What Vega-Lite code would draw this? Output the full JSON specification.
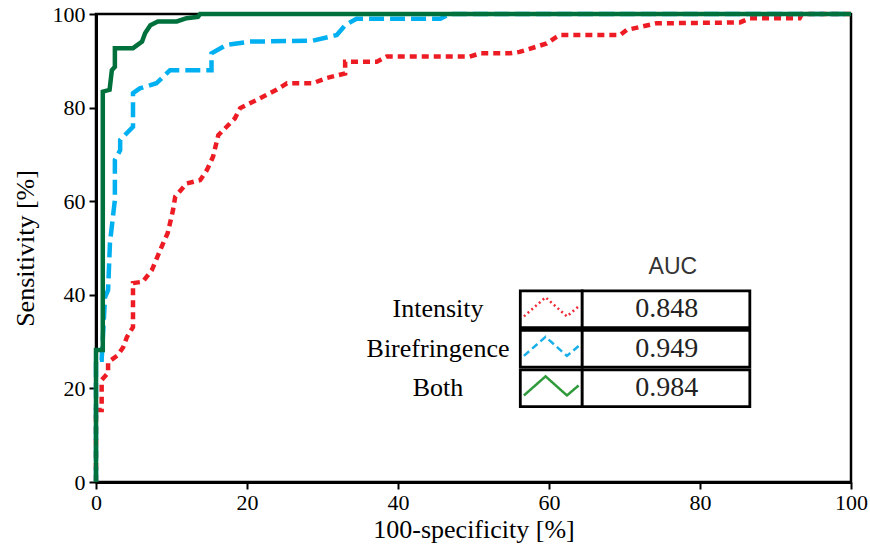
{
  "$schema": "https://vega.github.io/schema/vega-lite/v6.json",
  "width": 755,
  "height": 468,
  "autosize": "none",
  "padding": {"left": 96, "top": 14, "right": 19, "bottom": 68},
  "background": "white",
  "config": {
    "view": {"stroke": "black", "strokeWidth": 2.5},
    "font": "Liberation Serif",
    "axis": {
      "domainColor": "black", "domainWidth": 3,
      "tickColor": "black", "tickWidth": 2, "tickSize": 7,
      "labelFont": "Liberation Serif", "labelFontSize": 22, "labelColor": "black",
      "labelFlush": false, "labelOverlap": false,
      "titleFont": "Liberation Serif", "titleFontSize": 26, "titleFontWeight": "normal", "titleColor": "black",
      "grid": false
    }
  },
  "datasets": {
    "roc": [
      {"series": "Intensity", "i": 0, "x": 0, "y": 0},
      {"series": "Intensity", "i": 1, "x": 0, "y": 15.4},
      {"series": "Intensity", "i": 2, "x": 0.75, "y": 15.4},
      {"series": "Intensity", "i": 3, "x": 0.75, "y": 21.8},
      {"series": "Intensity", "i": 4, "x": 1.6, "y": 23.3},
      {"series": "Intensity", "i": 5, "x": 1.6, "y": 25.6},
      {"series": "Intensity", "i": 6, "x": 2.9, "y": 27.1},
      {"series": "Intensity", "i": 7, "x": 3.6, "y": 28.8},
      {"series": "Intensity", "i": 8, "x": 4.1, "y": 31.0},
      {"series": "Intensity", "i": 9, "x": 4.9, "y": 33.1},
      {"series": "Intensity", "i": 10, "x": 4.9, "y": 42.5},
      {"series": "Intensity", "i": 11, "x": 6.2, "y": 42.8},
      {"series": "Intensity", "i": 12, "x": 7.4, "y": 45.3},
      {"series": "Intensity", "i": 13, "x": 8.7, "y": 50.3},
      {"series": "Intensity", "i": 14, "x": 9.5, "y": 53.2},
      {"series": "Intensity", "i": 15, "x": 10.2, "y": 58.1},
      {"series": "Intensity", "i": 16, "x": 10.5, "y": 61.0},
      {"series": "Intensity", "i": 17, "x": 12.0, "y": 63.8},
      {"series": "Intensity", "i": 18, "x": 13.8, "y": 64.5},
      {"series": "Intensity", "i": 19, "x": 14.7, "y": 66.7},
      {"series": "Intensity", "i": 20, "x": 15.5, "y": 69.5},
      {"series": "Intensity", "i": 21, "x": 16.2, "y": 74.1},
      {"series": "Intensity", "i": 22, "x": 18.4, "y": 77.7},
      {"series": "Intensity", "i": 23, "x": 19.1, "y": 79.9},
      {"series": "Intensity", "i": 24, "x": 22.1, "y": 82.3},
      {"series": "Intensity", "i": 25, "x": 23.9, "y": 83.8},
      {"series": "Intensity", "i": 26, "x": 25.3, "y": 85.2},
      {"series": "Intensity", "i": 27, "x": 28.7, "y": 85.2},
      {"series": "Intensity", "i": 28, "x": 30.5, "y": 86.3},
      {"series": "Intensity", "i": 29, "x": 33.0, "y": 87.3},
      {"series": "Intensity", "i": 30, "x": 33.0, "y": 89.8},
      {"series": "Intensity", "i": 31, "x": 37.2, "y": 89.8},
      {"series": "Intensity", "i": 32, "x": 38.5, "y": 90.9},
      {"series": "Intensity", "i": 33, "x": 49.5, "y": 90.9},
      {"series": "Intensity", "i": 34, "x": 50.9, "y": 91.6},
      {"series": "Intensity", "i": 35, "x": 54.8, "y": 91.6},
      {"series": "Intensity", "i": 36, "x": 56.1, "y": 91.9},
      {"series": "Intensity", "i": 37, "x": 59.7, "y": 93.7},
      {"series": "Intensity", "i": 38, "x": 61.0, "y": 95.1},
      {"series": "Intensity", "i": 39, "x": 61.4, "y": 95.5},
      {"series": "Intensity", "i": 40, "x": 69.4, "y": 95.5},
      {"series": "Intensity", "i": 41, "x": 70.3, "y": 96.6},
      {"series": "Intensity", "i": 42, "x": 74.2, "y": 98.0},
      {"series": "Intensity", "i": 43, "x": 85.3, "y": 98.2},
      {"series": "Intensity", "i": 44, "x": 86.6, "y": 99.1},
      {"series": "Intensity", "i": 45, "x": 93.2, "y": 99.1},
      {"series": "Intensity", "i": 46, "x": 93.5, "y": 100},
      {"series": "Intensity", "i": 47, "x": 100, "y": 100},
      {"series": "Birefringence", "i": 0, "x": 0, "y": 0},
      {"series": "Birefringence", "i": 1, "x": 0, "y": 26.1},
      {"series": "Birefringence", "i": 2, "x": 0.75, "y": 26.1},
      {"series": "Birefringence", "i": 3, "x": 1.2, "y": 39.5},
      {"series": "Birefringence", "i": 4, "x": 1.6, "y": 41.0},
      {"series": "Birefringence", "i": 5, "x": 1.85, "y": 51.1},
      {"series": "Birefringence", "i": 6, "x": 2.5, "y": 60.3},
      {"series": "Birefringence", "i": 7, "x": 2.5, "y": 68.8},
      {"series": "Birefringence", "i": 8, "x": 3.2, "y": 70.9},
      {"series": "Birefringence", "i": 9, "x": 3.2, "y": 73.1},
      {"series": "Birefringence", "i": 10, "x": 4.9, "y": 75.9},
      {"series": "Birefringence", "i": 11, "x": 4.9, "y": 83.1},
      {"series": "Birefringence", "i": 12, "x": 5.8, "y": 84.1},
      {"series": "Birefringence", "i": 13, "x": 8.0, "y": 85.2},
      {"series": "Birefringence", "i": 14, "x": 9.8, "y": 88.0},
      {"series": "Birefringence", "i": 15, "x": 15.3, "y": 88.0},
      {"series": "Birefringence", "i": 16, "x": 15.3, "y": 91.6},
      {"series": "Birefringence", "i": 17, "x": 17.3, "y": 93.4},
      {"series": "Birefringence", "i": 18, "x": 20.4, "y": 94.1},
      {"series": "Birefringence", "i": 19, "x": 28.7, "y": 94.3},
      {"series": "Birefringence", "i": 20, "x": 31.9, "y": 95.5},
      {"series": "Birefringence", "i": 21, "x": 33.0, "y": 97.6},
      {"series": "Birefringence", "i": 22, "x": 34.5, "y": 99.0},
      {"series": "Birefringence", "i": 23, "x": 45.6, "y": 99.0},
      {"series": "Birefringence", "i": 24, "x": 46.9, "y": 100},
      {"series": "Birefringence", "i": 25, "x": 100, "y": 100},
      {"series": "Both", "i": 0, "x": 0, "y": 0},
      {"series": "Both", "i": 1, "x": 0, "y": 28.2},
      {"series": "Both", "i": 2, "x": 0.9, "y": 28.2},
      {"series": "Both", "i": 3, "x": 0.9, "y": 83.4},
      {"series": "Both", "i": 4, "x": 1.8, "y": 83.8},
      {"series": "Both", "i": 5, "x": 2.1, "y": 88.0},
      {"series": "Both", "i": 6, "x": 2.5, "y": 88.7},
      {"series": "Both", "i": 7, "x": 2.5, "y": 92.7},
      {"series": "Both", "i": 8, "x": 4.9, "y": 92.7},
      {"series": "Both", "i": 9, "x": 6.1, "y": 94.1},
      {"series": "Both", "i": 10, "x": 6.5, "y": 95.9},
      {"series": "Both", "i": 11, "x": 7.2, "y": 97.6},
      {"series": "Both", "i": 12, "x": 8.2, "y": 98.4},
      {"series": "Both", "i": 13, "x": 10.7, "y": 98.4},
      {"series": "Both", "i": 14, "x": 12.0, "y": 99.1},
      {"series": "Both", "i": 15, "x": 13.5, "y": 99.4},
      {"series": "Both", "i": 16, "x": 13.8, "y": 100},
      {"series": "Both", "i": 17, "x": 100, "y": 100}
    ],
    "auc": [
      {"series": "Intensity", "auc": "0.848"},
      {"series": "Birefringence", "auc": "0.949"},
      {"series": "Both", "auc": "0.984"}
    ]
  },
  "layer": [
    {
      "data": {"name": "roc"},
      "encoding": {
        "x": {
          "field": "x", "type": "quantitative",
          "scale": {"domain": [0, 100], "nice": false, "zero": false},
          "axis": {"title": "100-specificity [%]", "values": [0, 20, 40, 60, 80, 100], "labelPadding": 3, "titlePadding": 3}
        },
        "y": {
          "field": "y", "type": "quantitative",
          "scale": {"domain": [0, 100], "nice": false},
          "axis": {"title": "Sensitivity [%]", "values": [0, 20, 40, 60, 80, 100], "labelPadding": 4, "titlePadding": 14}
        },
        "order": {"field": "i", "type": "quantitative"}
      },
      "layer": [
        {
          "transform": [{"filter": "datum.series === 'Intensity'"}],
          "mark": {"type": "line", "color": "#ED1C24", "strokeWidth": 4.5, "strokeDash": [7, 5]}
        },
        {
          "transform": [{"filter": "datum.series === 'Birefringence'"}],
          "mark": {"type": "line", "color": "#00B0F0", "strokeWidth": 4.5, "strokeDash": [15, 6]}
        },
        {
          "transform": [{"filter": "datum.series === 'Both'"}],
          "mark": {"type": "line", "color": "#00703C", "strokeWidth": 4.5}
        }
      ]
    },
    {
      "data": {"name": "auc"},
      "encoding": {
        "y": {
          "field": "series", "type": "nominal",
          "scale": {"type": "band", "domain": ["AUC", "Intensity", "Birefringence", "Both"], "range": [237.4, 392.7], "paddingInner": 0.07, "paddingOuter": 0},
          "axis": null
        }
      },
      "layer": [
        {
          "mark": {"type": "rect", "fill": "white", "stroke": "black", "strokeWidth": 2.8},
          "encoding": {"x": {"datum": 56.2, "type": "quantitative"}, "x2": {"datum": 64.4}}
        },
        {
          "mark": {"type": "rect", "fill": "white", "stroke": "black", "strokeWidth": 2.8},
          "encoding": {"x": {"datum": 64.4, "type": "quantitative"}, "x2": {"datum": 86.6}}
        },
        {
          "mark": {"type": "point", "shape": "M-0.96,0.25L-0.2,-0.42L0.55,0.25L0.96,-0.1", "size": 3249, "filled": false, "opacity": 1, "strokeWidth": 2.5},
          "encoding": {
            "x": {"datum": 60.3, "type": "quantitative"},
            "color": {"field": "series", "type": "nominal", "scale": {"domain": ["Intensity", "Birefringence", "Both"], "range": ["#EE2A36", "#1AAFE8", "#2E9A3A"]}, "legend": null},
            "strokeDash": {"field": "series", "type": "nominal", "scale": {"domain": ["Intensity", "Birefringence", "Both"], "range": [[2, 3], [7, 4], [1, 0]]}, "legend": null}
          }
        },
        {
          "mark": {"type": "text", "font": "Liberation Serif", "fontSize": 26, "color": "black", "align": "center", "baseline": "middle"},
          "encoding": {"x": {"datum": 45.3, "type": "quantitative"}, "text": {"field": "series"}}
        },
        {
          "mark": {"type": "text", "font": "Liberation Serif", "fontSize": 28, "color": "#222222", "align": "center", "baseline": "middle"},
          "encoding": {"x": {"datum": 75.6, "type": "quantitative"}, "text": {"field": "auc"}}
        },
        {
          "data": {"values": [{"series": "AUC", "label": "AUC"}]},
          "mark": {"type": "text", "font": "Liberation Sans Narrow, Liberation Sans", "fontSize": 23, "color": "#333333", "align": "center", "baseline": "middle", "dy": -3},
          "encoding": {"x": {"datum": 76.4, "type": "quantitative"}, "text": {"field": "label"}}
        }
      ]
    }
  ],
  "resolve": {"scale": {"y": "independent"}}
}
